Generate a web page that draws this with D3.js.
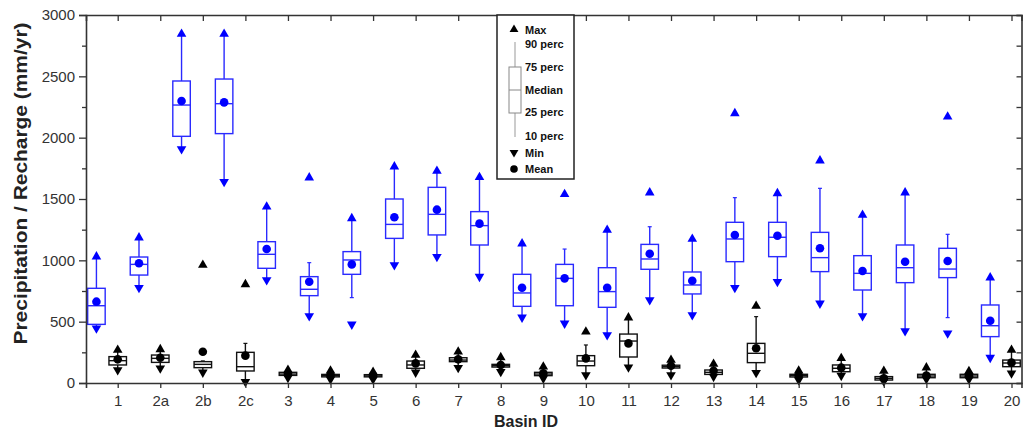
<!DOCTYPE html>
<html><head><meta charset="utf-8">
<script src="https://cdn.jsdelivr.net/npm/d3@7"></script>
<style>
body{margin:0;background:#fff}
svg{display:block}
text{font-family:"Liberation Sans",Arial,Helvetica,sans-serif}
</style>
</head><body>
<svg id="chart" width="1023" height="437"></svg>
<script>
// ---- Data ----
const categories = ["1","2a","2b","2c","3","4","5","6","7","8","9","10","11","12","13","14","15","16","17","18","19","20"];
const yTicks = [0, 500, 1000, 1500, 2000, 2500, 3000];

// Precipitation (blue)
const precipMax  = [1030,1185,2845,2845,1437,1674,1342,1764,1728,1677,1136,1538,1247,1552,1174,2198,1546,1813,1370,1552,2171,859];
const precipP90  = [1030,1185,2845,2845,1437, 981,1342,1764,1728,1677,1136,1092,1247,1274,1174,1511,1546,1587,1370,1552,1212,859];
const precipP75  = [ 772,1027,2462,2478,1152, 867,1071,1500,1595,1397, 886, 967, 940,1130, 905,1310,1310,1228,1038,1125,1098,636];
const precipMed  = [ 630, 967,2266,2277,1049, 764,1003,1293,1375,1283, 734, 853, 745,1011, 799,1174,1188,1022, 894, 940, 929,467];
const precipP25  = [ 478, 880,2011,2033, 935, 712, 886,1179,1207,1125, 625, 630, 617, 927, 726, 989,1030, 908, 758, 818, 859,378];
const precipP10  = [ 446, 777,1908,1641, 840, 546, 696, 962,1030, 867, 535, 486, 391, 677, 554, 777, 826, 649, 546, 424, 533,207];
const precipMin  = [ 446, 777,1908,1641, 840, 546, 478, 962,1030, 867, 535, 486, 391, 677, 554, 777, 826, 649, 546, 424, 405,207];
const precipMean = [ 663, 976,2299,2288,1092, 826, 967,1351,1413,1299, 777, 853, 777,1054, 834,1207,1201,1098, 913, 989, 995,508];

// Recharge (black)
const rechMax  = [269,274,962,804,106,100, 90,228,255,209,133,418,533,187,155,628,100,201, 98,125, 95,269];
const rechP90  = [269,274,180,323,106,100, 90,228,255,209,133,310,533,187,155,541,100,201, 98,125, 95,269];
const rechP75  = [215,228,174,250, 87, 70, 68,179,206,152, 87,223,399,145,106,323, 71,147, 52, 71, 71,187];
const rechMed  = [182,201,152,133, 73, 60, 58,147,187,141, 73,179,342,133, 87,242, 60,120, 38, 57, 57,163];
const rechP25  = [147,168,125, 98, 62, 50, 50,120,174,130, 60,141,212,122, 70,166, 49, 92, 24, 43, 43,133];
const rechP10  = [106,120, 90, 20, 43, 30, 30, 87,125, 92, 38, 65,128, 65, 52, 84, 24, 60, 15, 33, 30, 79];
const rechMin  = [106,120, 87, 10, 43, 30, 30, 87,125, 92, 38, 65,128, 65, 52, 84, 24, 60, 15, 33, 30, 79];
const rechMean = [193,206,255,223, 75, 65, 60,160,193,147, 79,201,323,141,100,283, 60,125, 38, 60, 60,166];

// ---- Layout ----
const svg = d3.select("#chart");
const mLeft = 86, mRight = 1021.5, mTop = 15, mBottom = 383;
const x = d3.scaleLinear().domain([-0.745, 21.235]).range([mLeft, mRight]);
const y = d3.scaleLinear().domain([0, 3000]).range([mBottom, mTop]);
const axisColor = "#333";

// ---- Series ----
function drawSeries(s, offset, stroke, fill) {
  const g = svg.append("g");
  const boxW = 17.5, capW = 4;
  s.max.forEach((_, i) => {
    const cx = x(i + offset);
    const gi = g.append("g");
    gi.append("line").attr("x1", cx).attr("x2", cx).attr("y1", y(s.p75[i])).attr("y2", y(s.p90[i]))
      .attr("stroke", stroke).attr("stroke-width", 1.4);
    gi.append("line").attr("x1", cx).attr("x2", cx).attr("y1", y(s.p25[i])).attr("y2", y(s.p10[i]))
      .attr("stroke", stroke).attr("stroke-width", 1.4);
    [s.p90[i], s.p10[i]].forEach(v => {
      gi.append("line").attr("x1", cx - capW/2).attr("x2", cx + capW/2).attr("y1", y(v)).attr("y2", y(v))
        .attr("stroke", stroke).attr("stroke-width", 1.2);
    });
    gi.append("rect").attr("x", cx - boxW/2).attr("width", boxW)
      .attr("y", y(s.p75[i])).attr("height", Math.max(0.5, y(s.p25[i]) - y(s.p75[i])))
      .attr("fill", "none").attr("stroke", stroke).attr("stroke-width", 1.4);
    gi.append("line").attr("x1", cx - boxW/2).attr("x2", cx + boxW/2).attr("y1", y(s.med[i])).attr("y2", y(s.med[i]))
      .attr("stroke", stroke).attr("stroke-width", 1.4);
    gi.append("path").attr("d", d3.symbol(d3.symbolTriangle, 40)())
      .attr("transform", `translate(${cx},${y(s.max[i])})`).attr("fill", fill);
    gi.append("path").attr("d", d3.symbol(d3.symbolTriangle, 40)())
      .attr("transform", `translate(${cx},${y(s.min[i])}) rotate(180)`).attr("fill", fill);
    gi.append("circle").attr("cx", cx).attr("cy", y(s.mean[i])).attr("r", 4.3).attr("fill", fill);
  });
}

drawSeries({max: precipMax, p90: precipP90, p75: precipP75, med: precipMed, p25: precipP25, p10: precipP10, min: precipMin, mean: precipMean},
  -0.5, "#2a2aff", "#0000ff");
drawSeries({max: rechMax, p90: rechP90, p75: rechP75, med: rechMed, p25: rechP25, p10: rechP10, min: rechMin, mean: rechMean},
  0, "#111", "#000");

// ---- Axes ----
const minorY = d3.range(250, 3000, 500);
function styleAxis(g) {
  g.selectAll(".domain").attr("stroke", axisColor).attr("stroke-width", 1.6);
  g.selectAll(".tick line").attr("stroke", axisColor).attr("stroke-width", 1.3);
  g.selectAll("text").attr("fill", "#333").style("font-size", "15px").style("font-family", '"Liberation Sans",Arial,sans-serif');
}
svg.append("g").attr("transform", `translate(${mLeft},0)`)
  .call(d3.axisLeft(y).tickValues(yTicks).tickSize(7).tickPadding(4).tickFormat(d3.format("d")))
  .call(styleAxis);
svg.append("g").attr("transform", `translate(${mLeft},0)`)
  .call(d3.axisLeft(y).tickValues(minorY).tickSize(4).tickFormat(""))
  .call(styleAxis).call(g => g.select(".domain").remove());
svg.append("g").attr("transform", `translate(${mRight},0)`)
  .call(d3.axisRight(y).tickValues(d3.range(0, 3001, 250)).tickSize(-5).tickFormat(""))
  .call(styleAxis);
const xIdx = d3.range(categories.length);
svg.append("g").attr("transform", `translate(0,${mBottom})`)
  .call(d3.axisBottom(x).tickValues(xIdx).tickSize(5).tickPadding(7).tickFormat(i => categories[i]))
  .call(styleAxis);
svg.append("g").attr("transform", `translate(0,${mTop})`)
  .call(d3.axisTop(x).tickValues(xIdx).tickSize(-6).tickFormat(""))
  .call(styleAxis);

// ---- Titles ----
svg.append("text").attr("transform", `translate(26.5,183.5) rotate(-90)`)
  .attr("text-anchor", "middle").style("font-size", "18.5px").style("font-weight", "bold").attr("fill", "#222")
  .attr("textLength", 322).attr("lengthAdjust", "spacingAndGlyphs")
  .text("Precipitation / Recharge (mm/yr)");
svg.append("text").attr("x", 526).attr("y", 427)
  .attr("text-anchor", "middle").style("font-size", "16px").style("font-weight", "bold").attr("fill", "#222")
  .text("Basin ID");

// ---- Legend ----
const lg = svg.append("g");
lg.append("rect").attr("x", 497).attr("y", mTop).attr("width", 77).attr("height", 164)
  .attr("fill", "#fff").attr("stroke", "#222").attr("stroke-width", 1.5);
const lx = 515, tx = 525;
const legendLabels = ["Max", "90 perc", "75 perc", "Median", "25 perc", "10 perc", "Min", "Mean"];
const legendY = [29.5, 44, 67, 89.5, 112, 136, 152.5, 169];
legendLabels.forEach((t, i) => {
  lg.append("text").attr("x", tx).attr("y", legendY[i] + 4).style("font-size", "11px")
    .style("font-weight", "bold").attr("fill", "#111").text(t);
});
lg.append("path").attr("d", d3.symbol(d3.symbolTriangle, 34)()).attr("transform", `translate(${lx - 1},${legendY[0]})`).attr("fill", "#000");
lg.append("path").attr("d", d3.symbol(d3.symbolTriangle, 34)()).attr("transform", `translate(${lx - 1},${legendY[6]}) rotate(180)`).attr("fill", "#000");
lg.append("circle").attr("cx", lx - 1).attr("cy", legendY[7]).attr("r", 3.8).attr("fill", "#000");
lg.append("line").attr("x1", lx).attr("x2", lx).attr("y1", 42).attr("y2", 67).attr("stroke", "#999").attr("stroke-width", 1);
lg.append("line").attr("x1", lx).attr("x2", lx).attr("y1", 113).attr("y2", 137).attr("stroke", "#999").attr("stroke-width", 1);
lg.append("rect").attr("x", 509).attr("y", 67).attr("width", 12).attr("height", 46).attr("fill", "none").attr("stroke", "#888").attr("stroke-width", 1);
lg.append("line").attr("x1", 509).attr("x2", 521).attr("y1", 90).attr("y2", 90).attr("stroke", "#888").attr("stroke-width", 1);
</script>
</body></html>
